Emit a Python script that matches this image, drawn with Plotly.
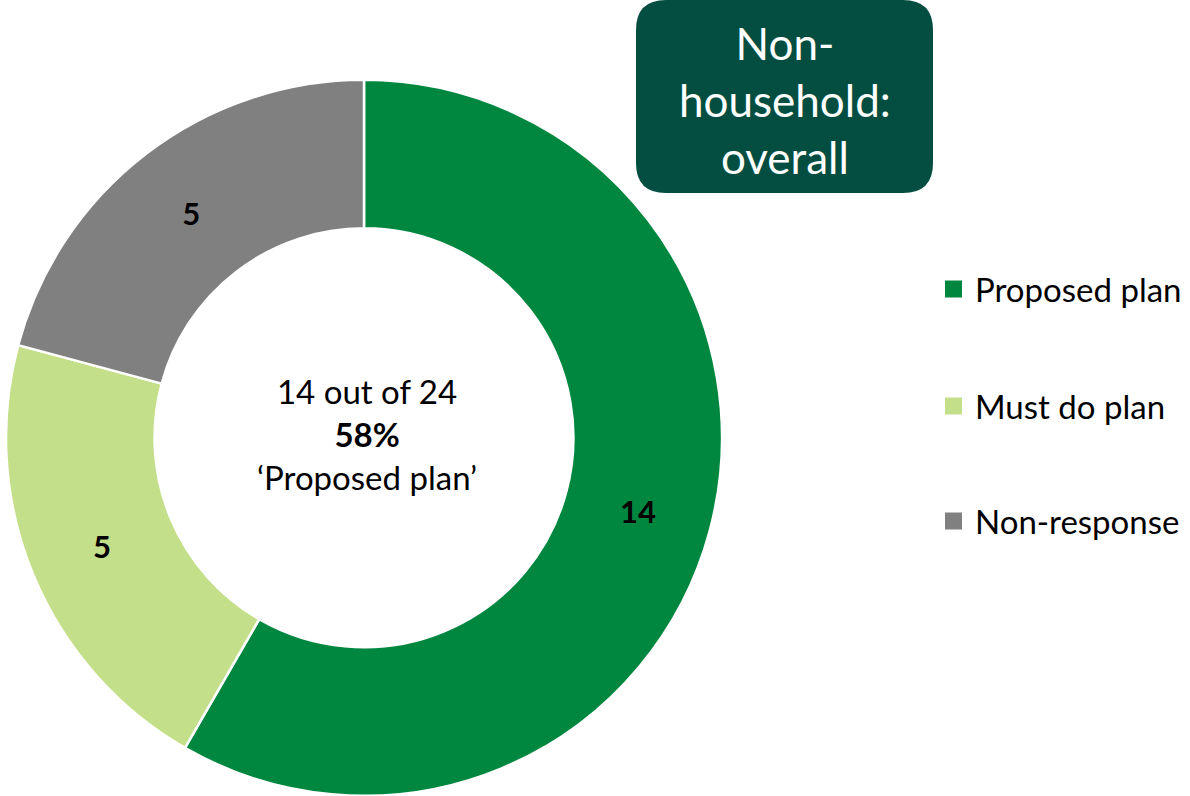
import plotly.graph_objects as go

# Survey responses: non-household customers
labels = ["Proposed plan", "Must do plan", "Non-response"]
counts = [14, 5, 5]
colors = ["#00873F", "#C4DF8A", "#808080"]

title_lines = ["Non-", "household:", "overall"]

FONT = "Lato, 'Open Sans', sans-serif"
W, H = 1190, 796

total = sum(counts)
share = round(100 * counts[0] / total)

fig = go.Figure()
fig.add_trace(go.Pie(
    labels=labels,
    values=counts,
    hole=0.585,
    sort=False,
    direction="clockwise",
    rotation=0,
    marker=dict(colors=colors, line=dict(color="white", width=2.5)),
    textinfo="value",
    textposition="inside",
    insidetextorientation="horizontal",
    textfont=dict(family=FONT, size=31, color="black", weight="bold"),
    domain=dict(x=[6 / W, 722 / W], y=[0, 0.9]),
    showlegend=False,
    hoverinfo="label+value",
))

# Centre caption
fig.add_annotation(
    x=367 / W, y=1 - 434 / H, xref="paper", yref="paper",
    xanchor="center", yanchor="middle",
    text=f"{counts[0]} out of {total}<br><b>{share}%</b><br>\u2018{labels[0]}\u2019",
    showarrow=False, align="center",
    font=dict(family=FONT, size=33, color="black"),
)

# Rounded title box
x0, x1, y0, y1, rr = 636 / W, 933 / W, 1 - 193 / H, 1.0, 30
rx, ry = rr / W, rr / H
path = (f"M {x0+rx},{y0} L {x1-rx},{y0} Q {x1},{y0} {x1},{y0+ry} "
        f"L {x1},{y1-ry} Q {x1},{y1} {x1-rx},{y1} L {x0+rx},{y1} "
        f"Q {x0},{y1} {x0},{y1-ry} L {x0},{y0+ry} Q {x0},{y0} {x0+rx},{y0} Z")
fig.add_shape(type="path", path=path, xref="paper", yref="paper",
              fillcolor="#034E40", line=dict(width=0))
fig.add_annotation(
    x=(x0 + x1) / 2, y=1 - 100 / H, xref="paper", yref="paper",
    xanchor="center", yanchor="middle",
    text="<br>".join(title_lines), showarrow=False, align="center",
    font=dict(family=FONT, size=44, color="white"),
)

# Legend drawn as squares plus labels
legend_y = [289, 406, 521]
for lab, col, ly in zip(labels, colors, legend_y):
    fig.add_shape(type="rect", xref="paper", yref="paper",
                  x0=945 / W, x1=962 / W,
                  y0=1 - (ly + 8.5) / H, y1=1 - (ly - 8.5) / H,
                  fillcolor=col, line=dict(width=0))
    fig.add_annotation(x=973 / W, y=1 - ly / H, xref="paper", yref="paper",
                       text=lab, showarrow=False, xanchor="left", yanchor="middle",
                       font=dict(family=FONT, size=33, color="black"))

fig.update_layout(
    width=W, height=H,
    margin=dict(l=0, r=0, t=0, b=0),
    paper_bgcolor="white", plot_bgcolor="white",
    uniformtext=dict(minsize=31, mode="show"),
)

fig.write_html("out.html")
